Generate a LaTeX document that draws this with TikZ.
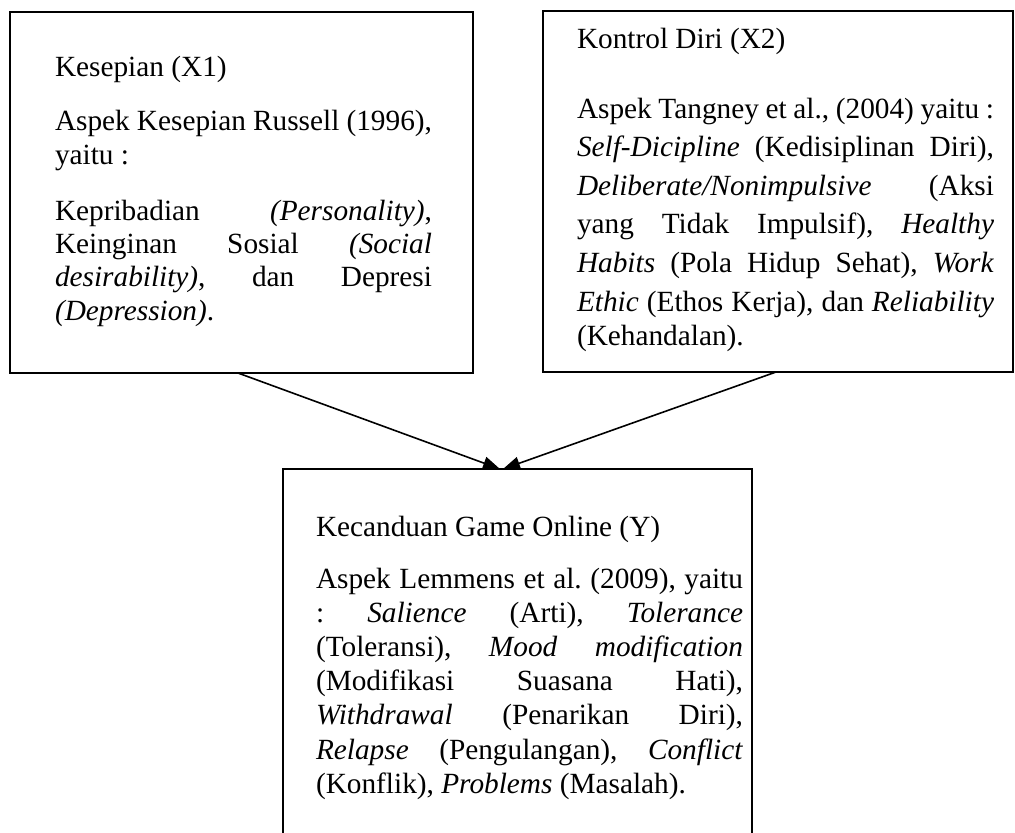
\documentclass[tikz,border=0pt]{standalone}
\usepackage{fontspec}
\setmainfont{Liberation Serif}
\usetikzlibrary{arrows.meta}
\newcommand\jline[1]{\makebox[\linewidth][s]{#1}\par}
\frenchspacing
\begin{document}
\begin{tikzpicture}[x=0.5pt,y=-0.5pt,
  box/.style={draw=black,line width=1pt,rectangle,inner sep=0pt},
  txt/.style={inner sep=0pt,outer sep=0pt,anchor=base west,align=justify,font=\fontsize{14.65}{17}\selectfont\frenchspacing},
  conn/.style={line width=0.8pt,-{Triangle[length=8.5pt,width=6.5pt]}}]
\useasboundingbox (0,0) rectangle (1015,832);
\clip (0,0) rectangle (1015,832);
% boxes
\node[box,minimum width=231.5pt,minimum height=180.5pt] (b1) at (241.5,192.5) {};
\node[box,minimum width=235pt,minimum height=180.5pt] (b2) at (778,191.5) {};
\node[box,minimum width=234.5pt,minimum height=190.5pt] (b3) at (517.5,659.5) {};
% left box text
\node[txt,text width=188.5pt] (t1a) at (55,76) {Kesepian (X1)};
\node[txt,text width=188.5pt] (t1b) at (55,130) {\fontsize{14.65}{17.5}\selectfont
\jline{Aspek Kesepian Russell (1996),}
yaitu :};
\node[txt,text width=188.5pt] (t1c) at (55,220) {\fontsize{14.65}{16.67}\selectfont
\jline{Kepribadian \textit{(Personality)},}
\jline{Keinginan Sosial \textit{(Social}}
\jline{\textit{desirability)}, dan Depresi}
\textit{(Depression)}.};
% right box text
\node[txt,text width=208.5pt] (t2a) at (577,48) {Kontrol Diri (X2)};
\node[txt,text width=208.5pt] (t2b) at (577,118) {\fontsize{14.65}{19.33}\selectfont
\jline{Aspek Tangney et al., (2004) yaitu :}
\jline{\textit{Self-Dicipline} (Kedisiplinan Diri),}
\jline{\textit{Deliberate/Nonimpulsive} (Aksi}
\jline{yang Tidak Impulsif), \textit{Healthy}}
\jline{\textit{Habits} (Pola Hidup Sehat), \textit{Work}}
\jline{\textit{Ethic} (Ethos Kerja), dan \textit{Reliability}}
(Kehandalan).};
% bottom box text
\node[txt,text width=213.5pt] (t3a) at (316,536) {Kecanduan Game Online (Y)};
\node[txt,text width=213.5pt] (t3b) at (316,588) {\fontsize{14.65}{17.1}\selectfont
\jline{Aspek Lemmens et al. (2009), yaitu}
\jline{: \textit{Salience} (Arti), \textit{Tolerance}}
\jline{(Toleransi), \textit{Mood modification}}
\jline{(Modifikasi Suasana Hati),}
\jline{\textit{Withdrawal} (Penarikan Diri),}
\jline{\textit{Relapse} (Pengulangan), \textit{Conflict}}
(Konflik), \textit{Problems} (Masalah).};
% connectors
\coordinate (s1) at (238,373);
\coordinate (e1) at (500,469);
\coordinate (s2) at (776,372);
\coordinate (e2) at (503,469);
\draw[conn] (s1) -- (e1);
\draw[conn] (s2) -- (e2);
\end{tikzpicture}
\end{document}
